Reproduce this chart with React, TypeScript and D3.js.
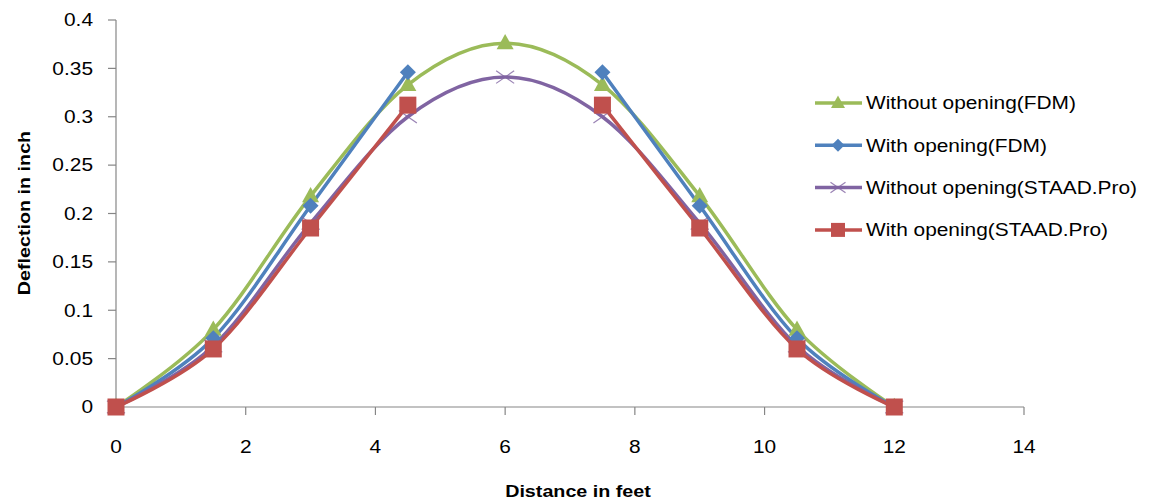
import * as d3 from "d3";

const distances = [0, 1.5, 3, 4.5, 6, 7.5, 9, 10.5, 12];
const withoutFdm = [0, 0.08, 0.218, 0.333, 0.376, 0.333, 0.218, 0.08, 0];
const withFdm = [0, 0.071, 0.208, 0.346, null, 0.346, 0.208, 0.071, 0];
const withoutStaad = [0, 0.063, 0.19, 0.3, 0.341, 0.3, 0.19, 0.063, 0];
const withStaad = [0, 0.06, 0.185, 0.312, null, 0.312, 0.185, 0.06, 0];

const seriesNames = [
  "Without opening(FDM)",
  "With opening(FDM)",
  "Without opening(STAAD.Pro)",
  "With opening(STAAD.Pro)",
];
const seriesColors = ["#9bbb59", "#4f81bd", "#8064a2", "#c0504d"];
const seriesMarkers = ["triangle", "diamond", "cross", "square"];
const seriesValues = [withoutFdm, withFdm, withoutStaad, withStaad];

const xTicks = [0, 2, 4, 6, 8, 10, 12, 14];
const yTicks = [0, 0.05, 0.1, 0.15, 0.2, 0.25, 0.3, 0.35, 0.4];

const W = 1153;
const H = 503;
const font = "'Liberation Sans', Arial, sans-serif";
const stretch = 1.16;

// text drawn a bit wider than the font, like the original picture
function Txt({ x, y, anchor = "start", size = 18, bold = false, rotate = 0, children }: any) {
  return (
    <text
      transform={`translate(${x},${y}) rotate(${rotate}) scale(${stretch},1)`}
      textAnchor={anchor}
      dy="0.35em"
      fontFamily={font}
      fontSize={size}
      fontWeight={bold ? "bold" : "normal"}
      fill="#000"
    >
      {children}
    </text>
  );
}

function Marker({ kind, x, y, color, s }: { kind: string; x: number; y: number; color: string; s: number }) {
  if (kind === "triangle") {
    const h = s * 0.9;
    return (
      <polygon
        points={`${x},${y - h * 0.6} ${x - s / 2},${y + h * 0.4} ${x + s / 2},${y + h * 0.4}`}
        fill={color}
      />
    );
  }
  if (kind === "diamond") {
    const r = s / 2;
    return <polygon points={`${x},${y - r} ${x + r},${y} ${x},${y + r} ${x - r},${y}`} fill={color} />;
  }
  if (kind === "cross") {
    const r = s / 2;
    return (
      <g stroke={color} strokeWidth={1.2} opacity={0.8}>
        <line x1={x - r} y1={y - r * 0.7} x2={x + r} y2={y + r * 0.7} />
        <line x1={x - r} y1={y + r * 0.7} x2={x + r} y2={y - r * 0.7} />
      </g>
    );
  }
  return <rect x={x - s / 2} y={y - s / 2} width={s} height={s} fill={color} />;
}

export default function App() {
  const x = d3.scaleLinear().domain([0, 14]).range([116, 1024]);
  const y = d3.scaleLinear().domain([0, 0.4]).range([407, 20]);

  const line = d3
    .line<number | null>()
    .defined((d) => d !== null)
    .x((_, i) => x(distances[i]))
    .y((d) => y(d as number))
    .curve(d3.curveCardinal.tension(0));

  const markerSizes = [17, 16, 18, 17];

  return (
    <svg width={W} height={H} style={{ position: "absolute", left: 0, top: 0, background: "#fff" }}>
      {/* axes */}
      <g stroke="#868686" strokeWidth={1.2}>
        <line x1={116} y1={y(0.4)} x2={116} y2={407} />
        <line x1={116} y1={407} x2={1024} y2={407} />
        {yTicks.map((t) => (
          <line key={t} x1={108} x2={116} y1={y(t)} y2={y(t)} />
        ))}
        {xTicks.map((t) => (
          <line key={t} x1={x(t)} x2={x(t)} y1={407} y2={415} />
        ))}
      </g>
      {yTicks.map((t) => (
        <Txt key={t} x={93} y={y(t)} anchor="end">
          {t === 0 ? "0" : String(+t.toFixed(2))}
        </Txt>
      ))}
      {xTicks.map((t) => (
        <Txt key={t} x={x(t)} y={447} anchor="middle">
          {t}
        </Txt>
      ))}
      <Txt x={578} y={491} anchor="middle" size={17} bold>
        Distance in feet
      </Txt>
      <Txt x={24} y={213} anchor="middle" size={17} bold rotate={-90}>
        Deflection in inch
      </Txt>

      {/* series */}
      {seriesValues.map((vals, si) => (
        <path key={si} d={line(vals) || ""} fill="none" stroke={seriesColors[si]} strokeWidth={3.5} />
      ))}
      {seriesValues.map((vals, si) => (
        <g key={si}>
          {vals.map((v, i) =>
            v === null ? null : (
              <Marker
                key={i}
                kind={seriesMarkers[si]}
                x={x(distances[i])}
                y={y(v)}
                color={seriesColors[si]}
                s={markerSizes[si]}
              />
            )
          )}
        </g>
      ))}

      {/* legend */}
      {seriesNames.map((name, i) => {
        const ly = 103 + i * 42.3;
        return (
          <g key={name}>
            <line x1={815} x2={862} y1={ly} y2={ly} stroke={seriesColors[i]} strokeWidth={3.5} />
            <Marker kind={seriesMarkers[i]} x={838} y={ly} color={seriesColors[i]} s={markerSizes[i] - 3} />
            <Txt x={866} y={ly}>
              {name}
            </Txt>
          </g>
        );
      })}
    </svg>
  );
}
